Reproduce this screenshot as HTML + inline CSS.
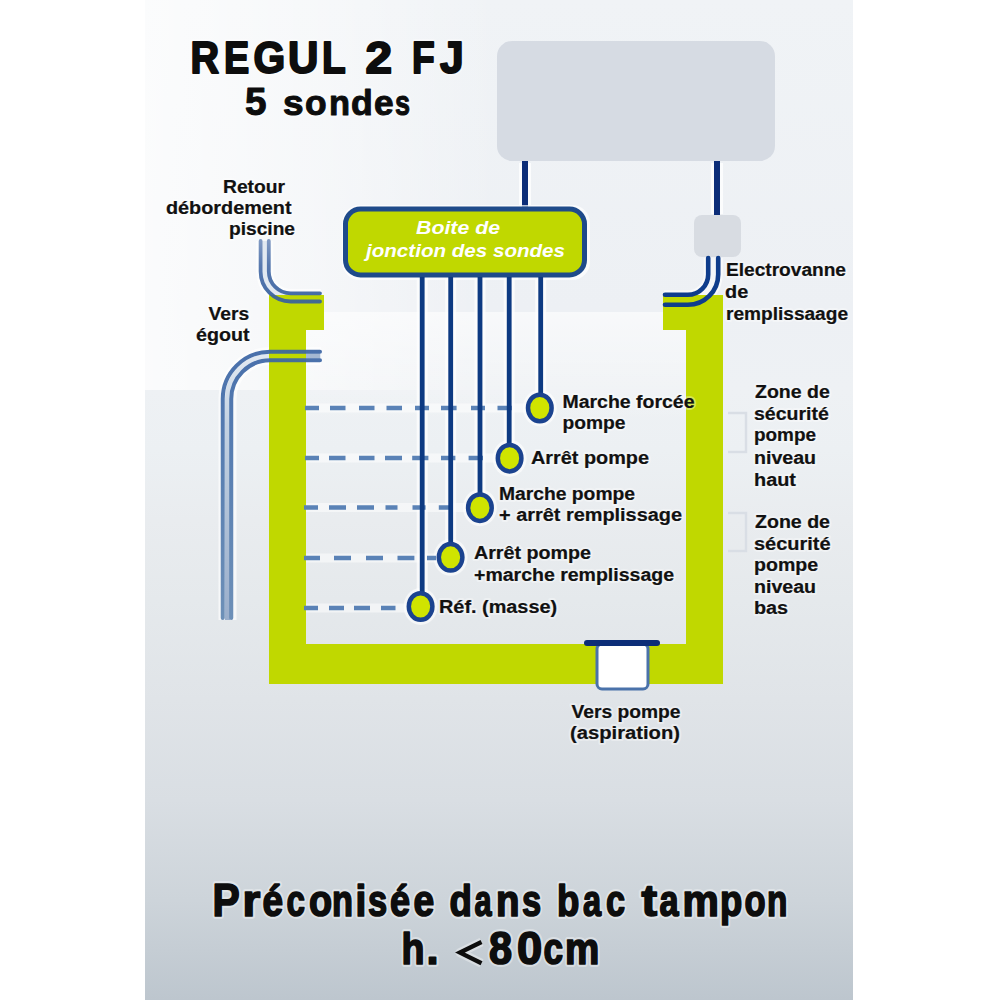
<!DOCTYPE html>
<html><head><meta charset="utf-8">
<style>
html,body{margin:0;padding:0;background:#fff;width:1000px;height:1000px;overflow:hidden}
#bg{position:absolute;left:145px;top:0;width:708px;height:1000px;
background:linear-gradient(to bottom,#f0f3f6 0%,#edf0f4 31%,#eef1f4 39%,#ecf0f3 45%,#e9ecef 52%,#e5e9ec 60%,#e0e4e8 70%,#d9dee3 80%,#cdd4da 90%,#bdc6ce 100%)}
svg{position:absolute;left:0;top:0}
text{font-family:"Liberation Sans",sans-serif;font-weight:bold}
.kt,.kb{fill:#0d0d0d;stroke:#0d0d0d;stroke-width:1px;stroke-linejoin:round}
.kt{stroke-width:2px}
.ks{stroke-width:1px}.kb{stroke-width:1.7px}
.kl,.kz{fill:#111;stroke:#111;stroke-width:.2px}
.ht,.hb{fill:none;stroke:#fff;stroke-opacity:.35;stroke-width:6px;stroke-linejoin:round}
.hl,.hz{fill:none;stroke:#fff;stroke-opacity:.35;stroke-width:4px;stroke-linejoin:round}
.wt{fill:#fff}

#lt{position:absolute;left:145px;top:0;width:708px;height:390px;background:linear-gradient(to right,rgba(255,255,255,.75) 0%,rgba(255,255,255,.45) 25%,rgba(255,255,255,0) 50%)}
#band{position:absolute;left:306px;top:312px;width:380px;height:110px;background:linear-gradient(to bottom,rgba(255,255,255,.6),rgba(255,255,255,.3) 50%,rgba(255,255,255,0))}

</style></head><body>
<div id="bg"></div><div id="lt"></div><div id="band"></div>
<svg width="1000" height="1000" viewBox="0 0 1000 1000">
<defs>
<linearGradient id="pipeMid" gradientUnits="userSpaceOnUse" x1="0" y1="340" x2="0" y2="620">
<stop offset="0" stop-color="#e8eef5"/><stop offset="0.3" stop-color="#c4d2e2"/><stop offset="1" stop-color="#9aaecb"/>
</linearGradient>
<linearGradient id="retourLine" gradientUnits="userSpaceOnUse" x1="0" y1="241" x2="0" y2="295">
<stop offset="0" stop-color="#7590bd"/><stop offset="0.45" stop-color="#4a6ea8"/><stop offset="1" stop-color="#37609f"/>
</linearGradient>
<linearGradient id="egoutLine" gradientUnits="userSpaceOnUse" x1="0" y1="350" x2="0" y2="620">
<stop offset="0" stop-color="#3a64a4"/><stop offset="0.3" stop-color="#4670aa"/><stop offset="1" stop-color="#6287b2"/>
</linearGradient>
</defs>

<!-- display box -->
<rect x="497" y="41" width="278" height="120" rx="15" fill="#d6dbe3"/>
<!-- wires from display -->
<g stroke="#fff" stroke-width="12" stroke-opacity="0.75">
<line x1="525" y1="163" x2="525" y2="205"/>
<line x1="717" y1="163" x2="717" y2="214"/>
</g>
<g stroke="#0c2d78" stroke-width="6">
<line x1="525" y1="161" x2="525" y2="208"/>
<line x1="717" y1="161" x2="717" y2="216"/>
</g>
<!-- electrovanne box -->
<rect x="694" y="215" width="47" height="42" rx="8" fill="#d8dce2"/>

<!-- pipe halos and middles (under tank) -->
<g fill="none" stroke="#fff" stroke-opacity=".65">
<path d="M264.7 241 V271.4 A26 26 0 0 0 290.7 297.4 H321" stroke-width="17"/>
<path d="M321 356 H270 A43 43 0 0 0 227.5 399 V620" stroke-width="18"/>
<path d="M713.2 258 V274.4 A25.4 25.4 0 0 1 687.8 299.8 H664" stroke-width="19"/>
</g>
<path d="M264.7 241 V271.4 A26 26 0 0 0 290.7 297.4 H321" fill="none" stroke="#e2e9f1" stroke-width="5"/>
<path d="M321 356 H270 A43 43 0 0 0 227.5 399 V620" fill="none" stroke="url(#pipeMid)" stroke-width="5"/>
<path d="M713.2 258 V274.4 A25.4 25.4 0 0 1 687.8 299.8 H664" fill="none" stroke="#f4f6f9" stroke-width="6"/>

<!-- tank -->
<path d="M269 295 H324 V330 H306 V644 H686 V330 H663 V295 H723 V684 H269 Z" fill="#c0d800"/>

<!-- pipe lines -->
<g fill="none" stroke-linecap="round">
<g stroke="url(#retourLine)" stroke-width="3.8" stroke-opacity=".92">
<path d="M260.6 241 V271.4 A30.1 30.1 0 0 0 290.7 301.5 H320"/>
<path d="M268.8 241 V271.4 A21.9 21.9 0 0 0 290.7 293.3 H320"/>
</g>
<path d="M320 356 H306" stroke="#a5b8d2" stroke-width="5" stroke-linecap="butt"/>
<g stroke="url(#egoutLine)" stroke-width="4" stroke-opacity=".92">
<path d="M320 351.75 H270 A47.25 47.25 0 0 0 222.75 399 V618"/>
<path d="M320 360.25 H270 A38.75 38.75 0 0 0 231.25 399 V618"/>
</g>
<g stroke="#0f3d8c" stroke-width="4.6">
<path d="M708.2 258 V274.4 A20.4 20.4 0 0 1 687.8 294.8 H665"/>
<path d="M718.2 258 V274.4 A30.4 30.4 0 0 1 687.8 304.8 H665"/>
</g>
</g>

<g stroke="#fff" stroke-width="9" stroke-opacity=".5" fill="none">
<path d="M306 408 H526 M306 458 H496 M306 507.5 H466 M306 558 H436 M306 608 H407"/>
</g>
<!-- junction box -->
<rect x="342" y="205" width="248" height="75" rx="18" fill="#fff" fill-opacity=".7"/>
<rect x="345.5" y="209" width="239" height="66" rx="15" fill="#c0d800" stroke="#1f4b8a" stroke-width="5"/>

<!-- probe wires -->
<g stroke="#fff" stroke-width="11" stroke-opacity=".7">
<line x1="422.2" y1="279" x2="422.2" y2="595"/>
<line x1="450.7" y1="279" x2="450.7" y2="543"/>
<line x1="480" y1="279" x2="480" y2="494"/>
<line x1="509.2" y1="279" x2="509.2" y2="445"/>
<line x1="540.7" y1="279" x2="540.7" y2="395"/>
</g>
<g fill="#fff" fill-opacity=".6">
<ellipse cx="539.8" cy="408" rx="17" ry="18.5"/>
<ellipse cx="509.6" cy="458.2" rx="17" ry="18.5"/>
<ellipse cx="479.9" cy="507.7" rx="17" ry="18.5"/>
<ellipse cx="450.6" cy="557.3" rx="17" ry="18.5"/>
<ellipse cx="420.6" cy="606.5" rx="17" ry="18.5"/>
</g>
<!-- dashed level lines -->
<g stroke="#5a82b6" stroke-width="4.3" fill="none">
<path d="M305 408h14M330 408h15.5M359 408h15.5M386.5 408h15.5M415 408h14M441 408h15.6M471 408h14M497.5 408h14.3"/>
<path d="M305 458h14M329 458h16.5M359 458h15.5M385 458h17M412.2 458h16.2M441 458h14.4M468.6 458h14.4"/>
<path d="M304 507.5h14M329 507.5h17M357 507.5h17M385.5 507.5h12M412.5 507.5h13.1M438.8 507.5h11.2"/>
<path d="M304 558h16M334 558h17M366 558h17M397.5 558h16.9M427 558h9"/>
<path d="M304 608h14M329 608h15M354 608h16M381 608h14.5"/>
</g>
<g stroke="#0d3a82" stroke-width="4.8">
<line x1="422.2" y1="277" x2="422.2" y2="596"/>
<line x1="450.7" y1="277" x2="450.7" y2="547"/>
<line x1="480" y1="277" x2="480" y2="497"/>
<line x1="509.2" y1="277" x2="509.2" y2="448"/>
<line x1="540.7" y1="277" x2="540.7" y2="398"/>
</g>
<!-- probes -->

<g fill="#d0e400" stroke="#1b438f" stroke-width="4.5">
<ellipse cx="539.8" cy="408" rx="11.8" ry="13.3"/>
<ellipse cx="509.6" cy="458.2" rx="11.8" ry="13.3"/>
<ellipse cx="479.9" cy="507.7" rx="11.8" ry="13.3"/>
<ellipse cx="450.6" cy="557.3" rx="11.8" ry="13.3"/>
<ellipse cx="420.6" cy="606.5" rx="11.8" ry="13.3"/>
</g>

<!-- outlet -->
<rect x="597" y="644" width="51" height="45" rx="5" fill="#fff" stroke="#4a72aa" stroke-width="3"/>
<rect x="584" y="640" width="76" height="6" rx="3" fill="#0c2d78"/>

<!-- zone brackets -->
<path d="M728 413 H746 V452 H728 M728 513 H746 V551 H728" fill="none" stroke="#d9dee5" stroke-width="2.5"/>
<!-- less-than chevron -->
<path d="M481.5 942 L460 952.6 L481.5 963.2" fill="none" stroke="#fff" stroke-opacity=".35" stroke-width="9" stroke-linejoin="round"/>

<g>
<text class="ht" x="190.5" y="72.5" textLength="28.6" lengthAdjust="spacingAndGlyphs" style="font-size:45px">R</text>
<text class="ht" x="224.0" y="72.5" textLength="25.2" lengthAdjust="spacingAndGlyphs" style="font-size:45px">E</text>
<text class="ht" x="253.5" y="72.5" textLength="31.7" lengthAdjust="spacingAndGlyphs" style="font-size:45px">G</text>
<text class="ht" x="288.0" y="72.5" textLength="30.4" lengthAdjust="spacingAndGlyphs" style="font-size:45px">U</text>
<text class="ht" x="322.0" y="72.5" textLength="23.7" lengthAdjust="spacingAndGlyphs" style="font-size:45px">L</text>
<text class="ht" x="365.5" y="72.5" textLength="26.6" lengthAdjust="spacingAndGlyphs" style="font-size:45px">2</text>
<text class="ht" x="412.0" y="72.5" textLength="22.7" lengthAdjust="spacingAndGlyphs" style="font-size:45px">F</text>
<text class="ht" x="440.0" y="72.5" textLength="23.7" lengthAdjust="spacingAndGlyphs" style="font-size:45px">J</text>
<text class="ht" x="245.0" y="114.5" textLength="21.5" lengthAdjust="spacingAndGlyphs" style="font-size:38px">5</text>
<text class="ht" x="283.0" y="114.5" textLength="20.6" lengthAdjust="spacingAndGlyphs" style="font-size:35.5px">s</text>
<text class="ht" x="305.0" y="114.5" textLength="21.6" lengthAdjust="spacingAndGlyphs" style="font-size:35.5px">o</text>
<text class="ht" x="329.0" y="114.5" textLength="21.0" lengthAdjust="spacingAndGlyphs" style="font-size:35.5px">n</text>
<text class="ht" x="351.0" y="114.5" textLength="21.8" lengthAdjust="spacingAndGlyphs" style="font-size:35.5px">d</text>
<text class="ht" x="374.0" y="114.5" textLength="19.6" lengthAdjust="spacingAndGlyphs" style="font-size:35.5px">e</text>
<text class="ht" x="395.0" y="114.5" textLength="15.1" lengthAdjust="spacingAndGlyphs" style="font-size:35.5px">s</text>
<text class="hb" x="212.5" y="915.55" textLength="27.2" lengthAdjust="spacingAndGlyphs" style="font-size:46.5px">P</text>
<text class="hb" x="242.5" y="915.55" textLength="17.8" lengthAdjust="spacingAndGlyphs" style="font-size:43.5px">r</text>
<text class="hb" x="262.5" y="915.55" textLength="20.6" lengthAdjust="spacingAndGlyphs" style="font-size:43.5px">é</text>
<text class="hb" x="286.5" y="915.55" textLength="18.5" lengthAdjust="spacingAndGlyphs" style="font-size:43.5px">c</text>
<text class="hb" x="309.0" y="915.55" textLength="23.1" lengthAdjust="spacingAndGlyphs" style="font-size:43.5px">o</text>
<text class="hb" x="332.0" y="915.55" textLength="21.0" lengthAdjust="spacingAndGlyphs" style="font-size:43.5px">n</text>
<text class="hb" x="355.5" y="915.55" textLength="10.8" lengthAdjust="spacingAndGlyphs" style="font-size:43.5px">i</text>
<text class="hb" x="368.0" y="915.55" textLength="19.2" lengthAdjust="spacingAndGlyphs" style="font-size:43.5px">s</text>
<text class="hb" x="390.0" y="915.55" textLength="20.1" lengthAdjust="spacingAndGlyphs" style="font-size:43.5px">é</text>
<text class="hb" x="413.5" y="915.55" textLength="20.7" lengthAdjust="spacingAndGlyphs" style="font-size:43.5px">e</text>
<text class="hb" x="449.5" y="915.55" textLength="22.4" lengthAdjust="spacingAndGlyphs" style="font-size:43.5px">d</text>
<text class="hb" x="474.5" y="915.55" textLength="17.1" lengthAdjust="spacingAndGlyphs" style="font-size:43.5px">a</text>
<text class="hb" x="496.0" y="915.55" textLength="23.5" lengthAdjust="spacingAndGlyphs" style="font-size:43.5px">n</text>
<text class="hb" x="522.0" y="915.55" textLength="19.2" lengthAdjust="spacingAndGlyphs" style="font-size:43.5px">s</text>
<text class="hb" x="557.0" y="915.55" textLength="22.4" lengthAdjust="spacingAndGlyphs" style="font-size:43.5px">b</text>
<text class="hb" x="583.0" y="915.55" textLength="18.1" lengthAdjust="spacingAndGlyphs" style="font-size:43.5px">a</text>
<text class="hb" x="606.0" y="915.55" textLength="19.1" lengthAdjust="spacingAndGlyphs" style="font-size:43.5px">c</text>
<text class="hb" x="641.5" y="915.55" textLength="15.6" lengthAdjust="spacingAndGlyphs" style="font-size:43.5px">t</text>
<text class="hb" x="659.5" y="915.55" textLength="19.1" lengthAdjust="spacingAndGlyphs" style="font-size:43.5px">a</text>
<text class="hb" x="682.5" y="915.55" textLength="36.3" lengthAdjust="spacingAndGlyphs" style="font-size:43.5px">m</text>
<text class="hb" x="720.0" y="915.55" textLength="22.3" lengthAdjust="spacingAndGlyphs" style="font-size:43.5px">p</text>
<text class="hb" x="744.5" y="915.55" textLength="21.1" lengthAdjust="spacingAndGlyphs" style="font-size:43.5px">o</text>
<text class="hb" x="767.0" y="915.55" textLength="20.4" lengthAdjust="spacingAndGlyphs" style="font-size:43.5px">n</text>
<text class="hb" x="401.5" y="963.85" textLength="23.0" lengthAdjust="spacingAndGlyphs" style="font-size:43.6px">h</text>
<text class="hb" x="426.5" y="963.85" textLength="12.1" lengthAdjust="spacingAndGlyphs" style="font-size:43.6px">.</text>
<text class="hb" x="489.0" y="963.85" textLength="23.1" lengthAdjust="spacingAndGlyphs" style="font-size:45.8px">8</text>
<text class="hb" x="517.0" y="963.85" textLength="25.2" lengthAdjust="spacingAndGlyphs" style="font-size:45.8px">0</text>
<text class="hb" x="543.5" y="963.85" textLength="19.6" lengthAdjust="spacingAndGlyphs" style="font-size:44px">c</text>
<text class="hb" x="565.0" y="963.85" textLength="34.3" lengthAdjust="spacingAndGlyphs" style="font-size:44px">m</text>
<text class="hl" x="223.0" y="193" textLength="62.0" lengthAdjust="spacingAndGlyphs" style="font-size:17.5px">Retour</text>
<text class="hl" x="166.0" y="214" textLength="125.5" lengthAdjust="spacingAndGlyphs" style="font-size:17.5px">débordement</text>
<text class="hl" x="229.0" y="235" textLength="66.0" lengthAdjust="spacingAndGlyphs" style="font-size:17.5px">piscine</text>
<text class="hl" x="208.5" y="320.3" textLength="40.6" lengthAdjust="spacingAndGlyphs" style="font-size:17.5px">Vers</text>
<text class="hl" x="196.0" y="341" textLength="53.5" lengthAdjust="spacingAndGlyphs" style="font-size:17.5px">égout</text>
<text class="hl" x="726.0" y="276" textLength="120.0" lengthAdjust="spacingAndGlyphs" style="font-size:17.5px">Electrovanne</text>
<text class="hl" x="725.0" y="297.5" textLength="23.2" lengthAdjust="spacingAndGlyphs" style="font-size:17.5px">de</text>
<text class="hl" x="726.0" y="319.8" textLength="122.0" lengthAdjust="spacingAndGlyphs" style="font-size:17.5px">remplissaage</text>
<text class="hl" x="562.5" y="407.5" textLength="132.0" lengthAdjust="spacingAndGlyphs" style="font-size:17.5px">Marche forcée</text>
<text class="hl" x="562.5" y="428.5" textLength="63.0" lengthAdjust="spacingAndGlyphs" style="font-size:17.5px">pompe</text>
<text class="hl" x="531.0" y="464.4" textLength="118.0" lengthAdjust="spacingAndGlyphs" style="font-size:17.5px">Arrêt pompe</text>
<text class="hl" x="499.0" y="499.6" textLength="136.0" lengthAdjust="spacingAndGlyphs" style="font-size:17.5px">Marche pompe</text>
<text class="hl" x="499.0" y="521" textLength="183.0" lengthAdjust="spacingAndGlyphs" style="font-size:17.5px">+ arrêt remplissage</text>
<text class="hl" x="474.0" y="558.8" textLength="117.0" lengthAdjust="spacingAndGlyphs" style="font-size:17.5px">Arrêt pompe</text>
<text class="hl" x="474.0" y="580.8" textLength="200.0" lengthAdjust="spacingAndGlyphs" style="font-size:17.5px">+marche remplissage</text>
<text class="hl" x="439.0" y="613.3" textLength="118.1" lengthAdjust="spacingAndGlyphs" style="font-size:17.5px">Réf. (masse)</text>
<text class="hz" x="755.0" y="398" textLength="74.8" lengthAdjust="spacingAndGlyphs" style="font-size:17.5px">Zone de</text>
<text class="hz" x="754.0" y="420" textLength="74.8" lengthAdjust="spacingAndGlyphs" style="font-size:17.5px">sécurité</text>
<text class="hz" x="754.0" y="441.25" textLength="62.0" lengthAdjust="spacingAndGlyphs" style="font-size:17.5px">pompe</text>
<text class="hz" x="754.0" y="463.75" textLength="62.1" lengthAdjust="spacingAndGlyphs" style="font-size:17.5px">niveau</text>
<text class="hz" x="754.0" y="485.5" textLength="42.0" lengthAdjust="spacingAndGlyphs" style="font-size:17.5px">haut</text>
<text class="hz" x="755.0" y="528" textLength="75.0" lengthAdjust="spacingAndGlyphs" style="font-size:17.5px">Zone de</text>
<text class="hz" x="754.0" y="549.5" textLength="76.5" lengthAdjust="spacingAndGlyphs" style="font-size:17.5px">sécurité</text>
<text class="hz" x="754.0" y="571.25" textLength="64.1" lengthAdjust="spacingAndGlyphs" style="font-size:17.5px">pompe</text>
<text class="hz" x="754.0" y="592.5" textLength="62.1" lengthAdjust="spacingAndGlyphs" style="font-size:17.5px">niveau</text>
<text class="hz" x="754.0" y="613.75" textLength="34.1" lengthAdjust="spacingAndGlyphs" style="font-size:17.5px">bas</text>
<text class="hl" x="571.5" y="718" textLength="109.0" lengthAdjust="spacingAndGlyphs" style="font-size:17.5px">Vers pompe</text>
<text class="hl" x="570.0" y="738.8" textLength="110.0" lengthAdjust="spacingAndGlyphs" style="font-size:17.5px">(aspiration)</text>
</g>
<g>
<text class="kt" x="190.5" y="72.5" textLength="28.6" lengthAdjust="spacingAndGlyphs" style="font-size:45px">R</text>
<text class="kt" x="224.0" y="72.5" textLength="25.2" lengthAdjust="spacingAndGlyphs" style="font-size:45px">E</text>
<text class="kt" x="253.5" y="72.5" textLength="31.7" lengthAdjust="spacingAndGlyphs" style="font-size:45px">G</text>
<text class="kt" x="288.0" y="72.5" textLength="30.4" lengthAdjust="spacingAndGlyphs" style="font-size:45px">U</text>
<text class="kt" x="322.0" y="72.5" textLength="23.7" lengthAdjust="spacingAndGlyphs" style="font-size:45px">L</text>
<text class="kt" x="365.5" y="72.5" textLength="26.6" lengthAdjust="spacingAndGlyphs" style="font-size:45px">2</text>
<text class="kt" x="412.0" y="72.5" textLength="22.7" lengthAdjust="spacingAndGlyphs" style="font-size:45px">F</text>
<text class="kt" x="440.0" y="72.5" textLength="23.7" lengthAdjust="spacingAndGlyphs" style="font-size:45px">J</text>
<text class="kt ks" x="245.0" y="114.5" textLength="21.5" lengthAdjust="spacingAndGlyphs" style="font-size:38px">5</text>
<text class="kt ks" x="283.0" y="114.5" textLength="20.6" lengthAdjust="spacingAndGlyphs" style="font-size:35.5px">s</text>
<text class="kt ks" x="305.0" y="114.5" textLength="21.6" lengthAdjust="spacingAndGlyphs" style="font-size:35.5px">o</text>
<text class="kt ks" x="329.0" y="114.5" textLength="21.0" lengthAdjust="spacingAndGlyphs" style="font-size:35.5px">n</text>
<text class="kt ks" x="351.0" y="114.5" textLength="21.8" lengthAdjust="spacingAndGlyphs" style="font-size:35.5px">d</text>
<text class="kt ks" x="374.0" y="114.5" textLength="19.6" lengthAdjust="spacingAndGlyphs" style="font-size:35.5px">e</text>
<text class="kt ks" x="395.0" y="114.5" textLength="15.1" lengthAdjust="spacingAndGlyphs" style="font-size:35.5px">s</text>
<text class="kb" x="212.5" y="915.55" textLength="27.2" lengthAdjust="spacingAndGlyphs" style="font-size:46.5px">P</text>
<text class="kb" x="242.5" y="915.55" textLength="17.8" lengthAdjust="spacingAndGlyphs" style="font-size:43.5px">r</text>
<text class="kb" x="262.5" y="915.55" textLength="20.6" lengthAdjust="spacingAndGlyphs" style="font-size:43.5px">é</text>
<text class="kb" x="286.5" y="915.55" textLength="18.5" lengthAdjust="spacingAndGlyphs" style="font-size:43.5px">c</text>
<text class="kb" x="309.0" y="915.55" textLength="23.1" lengthAdjust="spacingAndGlyphs" style="font-size:43.5px">o</text>
<text class="kb" x="332.0" y="915.55" textLength="21.0" lengthAdjust="spacingAndGlyphs" style="font-size:43.5px">n</text>
<text class="kb" x="355.5" y="915.55" textLength="10.8" lengthAdjust="spacingAndGlyphs" style="font-size:43.5px">i</text>
<text class="kb" x="368.0" y="915.55" textLength="19.2" lengthAdjust="spacingAndGlyphs" style="font-size:43.5px">s</text>
<text class="kb" x="390.0" y="915.55" textLength="20.1" lengthAdjust="spacingAndGlyphs" style="font-size:43.5px">é</text>
<text class="kb" x="413.5" y="915.55" textLength="20.7" lengthAdjust="spacingAndGlyphs" style="font-size:43.5px">e</text>
<text class="kb" x="449.5" y="915.55" textLength="22.4" lengthAdjust="spacingAndGlyphs" style="font-size:43.5px">d</text>
<text class="kb" x="474.5" y="915.55" textLength="17.1" lengthAdjust="spacingAndGlyphs" style="font-size:43.5px">a</text>
<text class="kb" x="496.0" y="915.55" textLength="23.5" lengthAdjust="spacingAndGlyphs" style="font-size:43.5px">n</text>
<text class="kb" x="522.0" y="915.55" textLength="19.2" lengthAdjust="spacingAndGlyphs" style="font-size:43.5px">s</text>
<text class="kb" x="557.0" y="915.55" textLength="22.4" lengthAdjust="spacingAndGlyphs" style="font-size:43.5px">b</text>
<text class="kb" x="583.0" y="915.55" textLength="18.1" lengthAdjust="spacingAndGlyphs" style="font-size:43.5px">a</text>
<text class="kb" x="606.0" y="915.55" textLength="19.1" lengthAdjust="spacingAndGlyphs" style="font-size:43.5px">c</text>
<text class="kb" x="641.5" y="915.55" textLength="15.6" lengthAdjust="spacingAndGlyphs" style="font-size:43.5px">t</text>
<text class="kb" x="659.5" y="915.55" textLength="19.1" lengthAdjust="spacingAndGlyphs" style="font-size:43.5px">a</text>
<text class="kb" x="682.5" y="915.55" textLength="36.3" lengthAdjust="spacingAndGlyphs" style="font-size:43.5px">m</text>
<text class="kb" x="720.0" y="915.55" textLength="22.3" lengthAdjust="spacingAndGlyphs" style="font-size:43.5px">p</text>
<text class="kb" x="744.5" y="915.55" textLength="21.1" lengthAdjust="spacingAndGlyphs" style="font-size:43.5px">o</text>
<text class="kb" x="767.0" y="915.55" textLength="20.4" lengthAdjust="spacingAndGlyphs" style="font-size:43.5px">n</text>
<text class="kb" x="401.5" y="963.85" textLength="23.0" lengthAdjust="spacingAndGlyphs" style="font-size:43.6px">h</text>
<text class="kb" x="426.5" y="963.85" textLength="12.1" lengthAdjust="spacingAndGlyphs" style="font-size:43.6px">.</text>
<text class="kb" x="489.0" y="963.85" textLength="23.1" lengthAdjust="spacingAndGlyphs" style="font-size:45.8px">8</text>
<text class="kb" x="517.0" y="963.85" textLength="25.2" lengthAdjust="spacingAndGlyphs" style="font-size:45.8px">0</text>
<text class="kb" x="543.5" y="963.85" textLength="19.6" lengthAdjust="spacingAndGlyphs" style="font-size:44px">c</text>
<text class="kb" x="565.0" y="963.85" textLength="34.3" lengthAdjust="spacingAndGlyphs" style="font-size:44px">m</text>
<text class="kl" x="223.0" y="193" textLength="62.0" lengthAdjust="spacingAndGlyphs" style="font-size:17.5px">Retour</text>
<text class="kl" x="166.0" y="214" textLength="125.5" lengthAdjust="spacingAndGlyphs" style="font-size:17.5px">débordement</text>
<text class="kl" x="229.0" y="235" textLength="66.0" lengthAdjust="spacingAndGlyphs" style="font-size:17.5px">piscine</text>
<text class="kl" x="208.5" y="320.3" textLength="40.6" lengthAdjust="spacingAndGlyphs" style="font-size:17.5px">Vers</text>
<text class="kl" x="196.0" y="341" textLength="53.5" lengthAdjust="spacingAndGlyphs" style="font-size:17.5px">égout</text>
<text class="kl" x="726.0" y="276" textLength="120.0" lengthAdjust="spacingAndGlyphs" style="font-size:17.5px">Electrovanne</text>
<text class="kl" x="725.0" y="297.5" textLength="23.2" lengthAdjust="spacingAndGlyphs" style="font-size:17.5px">de</text>
<text class="kl" x="726.0" y="319.8" textLength="122.0" lengthAdjust="spacingAndGlyphs" style="font-size:17.5px">remplissaage</text>
<text class="kl" x="562.5" y="407.5" textLength="132.0" lengthAdjust="spacingAndGlyphs" style="font-size:17.5px">Marche forcée</text>
<text class="kl" x="562.5" y="428.5" textLength="63.0" lengthAdjust="spacingAndGlyphs" style="font-size:17.5px">pompe</text>
<text class="kl" x="531.0" y="464.4" textLength="118.0" lengthAdjust="spacingAndGlyphs" style="font-size:17.5px">Arrêt pompe</text>
<text class="kl" x="499.0" y="499.6" textLength="136.0" lengthAdjust="spacingAndGlyphs" style="font-size:17.5px">Marche pompe</text>
<text class="kl" x="499.0" y="521" textLength="183.0" lengthAdjust="spacingAndGlyphs" style="font-size:17.5px">+ arrêt remplissage</text>
<text class="kl" x="474.0" y="558.8" textLength="117.0" lengthAdjust="spacingAndGlyphs" style="font-size:17.5px">Arrêt pompe</text>
<text class="kl" x="474.0" y="580.8" textLength="200.0" lengthAdjust="spacingAndGlyphs" style="font-size:17.5px">+marche remplissage</text>
<text class="kl" x="439.0" y="613.3" textLength="118.1" lengthAdjust="spacingAndGlyphs" style="font-size:17.5px">Réf. (masse)</text>
<text class="kz" x="755.0" y="398" textLength="74.8" lengthAdjust="spacingAndGlyphs" style="font-size:17.5px">Zone de</text>
<text class="kz" x="754.0" y="420" textLength="74.8" lengthAdjust="spacingAndGlyphs" style="font-size:17.5px">sécurité</text>
<text class="kz" x="754.0" y="441.25" textLength="62.0" lengthAdjust="spacingAndGlyphs" style="font-size:17.5px">pompe</text>
<text class="kz" x="754.0" y="463.75" textLength="62.1" lengthAdjust="spacingAndGlyphs" style="font-size:17.5px">niveau</text>
<text class="kz" x="754.0" y="485.5" textLength="42.0" lengthAdjust="spacingAndGlyphs" style="font-size:17.5px">haut</text>
<text class="kz" x="755.0" y="528" textLength="75.0" lengthAdjust="spacingAndGlyphs" style="font-size:17.5px">Zone de</text>
<text class="kz" x="754.0" y="549.5" textLength="76.5" lengthAdjust="spacingAndGlyphs" style="font-size:17.5px">sécurité</text>
<text class="kz" x="754.0" y="571.25" textLength="64.1" lengthAdjust="spacingAndGlyphs" style="font-size:17.5px">pompe</text>
<text class="kz" x="754.0" y="592.5" textLength="62.1" lengthAdjust="spacingAndGlyphs" style="font-size:17.5px">niveau</text>
<text class="kz" x="754.0" y="613.75" textLength="34.1" lengthAdjust="spacingAndGlyphs" style="font-size:17.5px">bas</text>
<text class="kl" x="571.5" y="718" textLength="109.0" lengthAdjust="spacingAndGlyphs" style="font-size:17.5px">Vers pompe</text>
<text class="kl" x="570.0" y="738.8" textLength="110.0" lengthAdjust="spacingAndGlyphs" style="font-size:17.5px">(aspiration)</text>
<text class="wt" x="416.0" y="234.4" textLength="84.0" lengthAdjust="spacingAndGlyphs" style="font-size:19px;font-style:italic">Boite de</text>
<text class="wt" x="366.0" y="257.1" textLength="199.0" lengthAdjust="spacingAndGlyphs" style="font-size:19px;font-style:italic">jonction des sondes</text>
<path d="M481.5 942 L460 952.6 L481.5 963.2" fill="none" stroke="#0d0d0d" stroke-width="4.4" stroke-linejoin="miter"/>
</g>
</svg>
</body></html>
